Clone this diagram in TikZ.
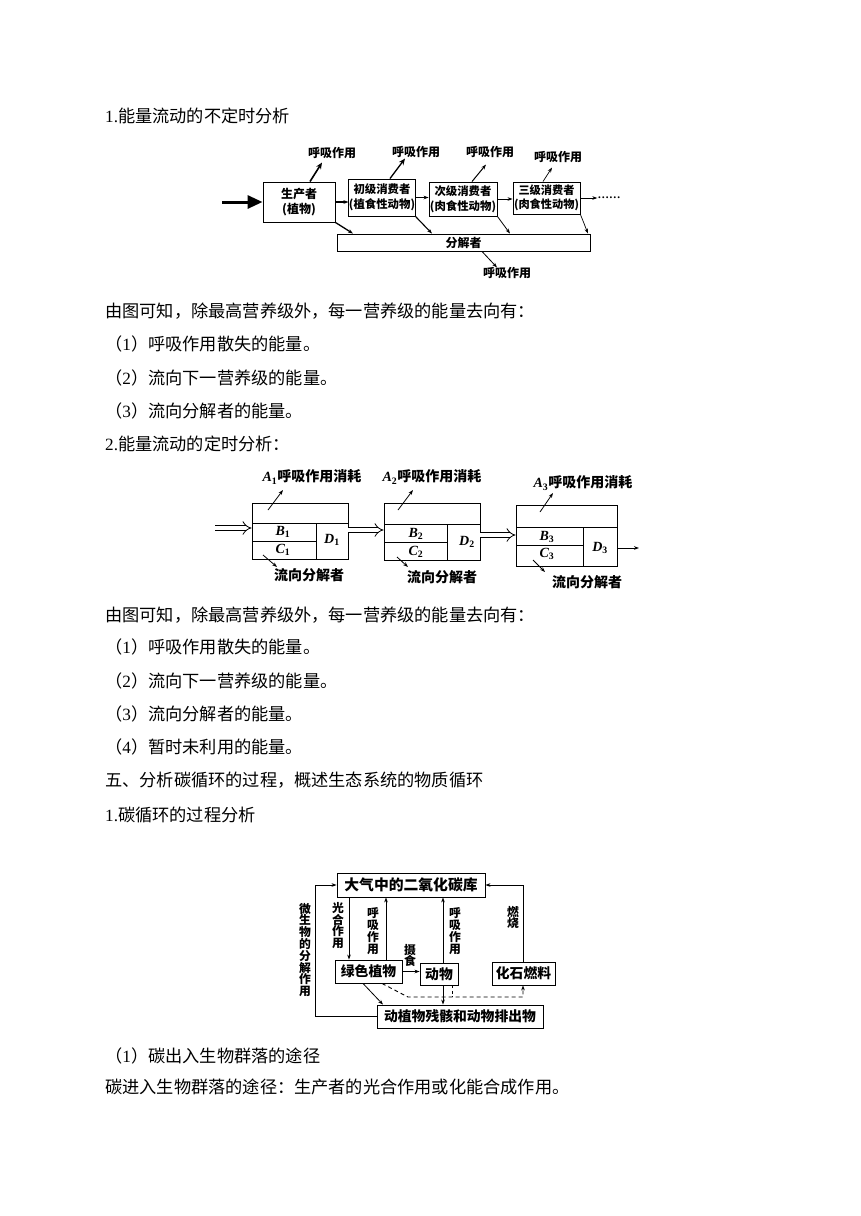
\documentclass[tikz,border=0pt]{standalone}
\usepackage{fontspec}
\setmainfont{Noto Sans CJK SC}
\newfontfamily\tnr{Liberation Serif}
\usetikzlibrary{arrows.meta}
\newcommand\bodyfont{\fontsize{17.2}{20}\selectfont}
\newcommand\dfa{\fontsize{12}{15}\selectfont\bfseries}
\newcommand\dfb{\fontsize{14}{16}\selectfont\bfseries}
\newcommand\dfc{\fontsize{13.8}{15}\selectfont\bfseries}
\newcommand\vfont{\fontsize{11.8}{11.8}\selectfont\bfseries}
\newcommand\lett[2]{{\tnr\bfseries\itshape #1\textsubscript{\upshape #2}}}
\tikzset{
  body/.style={anchor=west, inner sep=0pt, font=\bodyfont},
  fbox/.style={draw, line width=0.9pt, inner sep=0pt, align=center},
  lab/.style={inner sep=0pt, font=\dfa},
  labb/.style={inner sep=0pt, font=\dfb},
  vlab/.style={inner sep=0pt, font=\vfont, align=center},
  arr/.style={-{Stealth[length=5pt,width=3.6pt]}, line width=0.8pt},
  resp/.style={-{Stealth[length=6.5pt,width=5.5pt]}, line width=1.6pt},
  dbl/.style={double, double distance=4pt, line width=0.8pt, -{Implies}},
}
\begin{document}
\begin{tikzpicture}[x=1pt,y=-1pt]
\useasboundingbox (0,0) rectangle (860,1216);
\fill[white] (0,0) rectangle (860,1216);

% ---------- body text ----------
\node[body] (t1) at (105,115.5) {{\tnr 1.}能量流动的不定时分析};
\node[body] (t2) at (105,311.5) {由图可知，除最高营养级外，每一营养级的能量去向有：};
\node[body] (t3) at (105,344) {（{\tnr 1}）呼吸作用散失的能量。};
\node[body] (t4) at (105,377.5) {（{\tnr 2}）流向下一营养级的能量。};
\node[body] (t5) at (105,411) {（{\tnr 3}）流向分解者的能量。};
\node[body] (t6) at (105,444) {{\tnr 2.}能量流动的定时分析：};
\node[body] (t7) at (105,615) {由图可知，除最高营养级外，每一营养级的能量去向有：};
\node[body] (t8) at (105,647) {（{\tnr 1}）呼吸作用散失的能量。};
\node[body] (t9) at (105,681) {（{\tnr 2}）流向下一营养级的能量。};
\node[body] (t10) at (105,714) {（{\tnr 3}）流向分解者的能量。};
\node[body] (t11) at (105,747) {（{\tnr 4}）暂时未利用的能量。};
\node[body] (t12) at (105,780.5) {五、分析碳循环的过程，概述生态系统的物质循环};
\node[body] (t13) at (105,815) {{\tnr 1.}碳循环的过程分析};
\node[body] (t14) at (105,1055.5) {（{\tnr 1}）碳出入生物群落的途径};
\node[body] (t15) at (105,1086.5) {碳进入生物群落的途径：生产者的光合作用或化能合成作用。};

% ---------- diagram 1 ----------
\node[fbox, minimum width=72pt, minimum height=40pt, font=\dfa] (p) at (299,202) {生产者\\(植物)};
\node[fbox, minimum width=64pt, minimum height=37pt, font=\fontsize{11.4}{15}\selectfont\bfseries] (c1) at (382,197.5) {初级消费者\\(植食性动物)};
\node[fbox, minimum width=68pt, minimum height=34pt, font=\fontsize{11.4}{15}\selectfont\bfseries] (c2) at (463,199) {次级消费者\\(肉食性动物)};
\node[fbox, minimum width=67pt, minimum height=32pt, font=\fontsize{11.2}{14}\selectfont\bfseries] (c3) at (546.5,198) {三级消费者\\(肉食性动物)};
\node[fbox, minimum width=253pt, minimum height=17pt, font=\dfa] (d) at (463.5,242.5) {分解者};
\node[inner sep=0pt, font=\fontsize{11.5}{11}\selectfont\tnr\bfseries] (dots) at (609,198) {……};

\node[lab] (r1) at (332,153) {呼吸作用};
\node[lab] (r2) at (416,152) {呼吸作用};
\node[lab] (r3) at (490,152) {呼吸作用};
\node[lab] (r4) at (558,157) {呼吸作用};
\node[lab] (r5) at (507,273) {呼吸作用};

\coordinate (in1) at (222,202);
\draw[line width=3pt, -{Triangle[length=15pt,width=13pt]}] (in1) -- (p.west);
\draw[arr, line width=1.2pt] (p.east) -- (p.east -| c1.west);
\draw[arr, line width=1.2pt] (c1.east) -- (c1.east -| c2.west);
\draw[arr] (c2.east) -- (c2.east -| c3.west);
\draw[arr] (c3.east) -- (dots.west);

\draw[resp] ([xshift=11pt]p.north) -- ++(12,-19);
\draw[resp, line width=1.3pt] ([xshift=8pt]c1.north) -- ++(15,-20);
\draw[arr, line width=1pt] ([xshift=9pt]c2.north) -- ++(14,-17);
\draw[arr, line width=0.7pt] ([xshift=-3.5pt]c3.north) -- ++(9,-14);

\draw[arr, line width=1.3pt] (p.south east) -- ([xshift=-110.5pt]d.north);
\draw[arr, line width=1.1pt] (c1.south east) -- ([xshift=-31.5pt]d.north);
\draw[arr] (c2.south east) -- ([xshift=46.5pt]d.north);
\draw[arr, line width=0.7pt] (c3.south east) -- ([xshift=124.5pt]d.north);
\draw[arr] ([xshift=18.5pt]d.south) -- ++(15,16);

% ---------- diagram 2 ----------
\node[draw, line width=0.9pt, inner sep=0pt, minimum width=96pt, minimum height=56pt] (b1) at (300,531) {};
\node[draw, line width=0.9pt, inner sep=0pt, minimum width=96pt, minimum height=57pt] (b2) at (432,531.5) {};
\node[draw, line width=0.9pt, inner sep=0pt, minimum width=101pt, minimum height=61pt] (b3) at (566.5,535.5) {};
\draw[line width=0.9pt] (252,523) -- (348,523) (316,523) -- (316,559) (252,541) -- (316,541);
\draw[line width=0.9pt] (384,524) -- (480,524) (447,524) -- (447,560) (384,542) -- (447,542);
\draw[line width=0.9pt] (516,527) -- (617,527) (583,527) -- (583,566) (516,545) -- (583,545);

\node[labb] (B1) at (283,532) {\lett{B}{1}};
\node[labb] (C1) at (283,550) {\lett{C}{1}};
\node[labb] (D1) at (332,540) {\lett{D}{1}};
\node[labb] (B2) at (416,534) {\lett{B}{2}};
\node[labb] (C2) at (416,552) {\lett{C}{2}};
\node[labb] (D2) at (467,542) {\lett{D}{2}};
\node[labb] (B3) at (547,537) {\lett{B}{3}};
\node[labb] (C3) at (547,554) {\lett{C}{3}};
\node[labb] (D3) at (600,548) {\lett{D}{3}};

\node[labb] (a1) at (312,477) {\lett{A}{1}呼吸作用消耗};
\node[labb] (a2) at (432,477) {\lett{A}{2}呼吸作用消耗};
\node[labb] (a3) at (583,483) {\lett{A}{3}呼吸作用消耗};
\node[labb] (f1) at (309,575) {流向分解者};
\node[labb] (f2) at (442,577) {流向分解者};
\node[labb] (f3) at (587,582) {流向分解者};

\draw[arr] (268,510) -- (283,490);
\draw[arr] (398,510) -- (413,490);
\draw[arr] (540,512) -- (553,493);
\draw[arr] (263,555) -- (277,567);
\draw[arr] (397,557) -- (408,567);
\draw[arr] (533,560) -- (545,572);

\coordinate (in2) at (215,528);
\draw[dbl] (in2) -- (in2 -| b1.west);
\coordinate (e1) at ([yshift=1pt]b1.east);
\draw[dbl] (e1) -- (e1 -| b2.west);
\coordinate (e2) at ([yshift=-3.5pt]b2.east);
\draw[dbl] (e2) -- (e2 -| b3.west);
\coordinate (e3) at ([yshift=-12.5pt]b3.east);
\coordinate (o3) at (639,548);
\draw[arr] (e3) -- (o3);

% ---------- diagram 3 ----------
\node[fbox, minimum width=148pt, minimum height=24pt, font=\fontsize{14.8}{15}\selectfont\bfseries] (co2) at (411,885) {大气中的二氧化碳库};
\node[fbox, minimum width=67pt, minimum height=23pt, font=\dfc] (gp) at (368.5,971.5) {绿色植物};
\node[fbox, minimum width=38pt, minimum height=22pt, font=\dfc] (an) at (439,974) {动物};
\node[fbox, minimum width=63pt, minimum height=23pt, font=\dfc] (fu) at (523.5,973.5) {化石燃料};
\node[fbox, minimum width=166pt, minimum height=23pt, font=\dfc] (rs) at (460,1016.5) {动植物残骸和动物排出物};

\node[vlab] (v1) at (305,950) {微\\生\\物\\的\\分\\解\\作\\用};
\node[vlab] (v2) at (338,925.5) {光\\合\\作\\用};
\node[vlab] (v3) at (373,931) {呼\\吸\\作\\用};
\node[vlab] (v4) at (410,955.5) {摄\\食};
\node[vlab] (v5) at (455,931) {呼\\吸\\作\\用};
\node[vlab] (v6) at (513,917.5) {燃\\烧};

\coordinate (xl) at (315,0);
\coordinate (xps) at (349,0);
\coordinate (xr1) at (386,0);
\coordinate (xr2) at (443,0);
\coordinate (xda) at (452,0);
\coordinate (xfu) at (523,0);
\coordinate (ydash) at (0,997);

\draw[arr] (rs.west) -- (rs.west -| xl) -- (co2.west -| xl) -- (co2.west);
\draw[arr] (co2.south -| xps) -- (gp.north -| xps);
\draw[arr] (gp.north -| xr1) -- (co2.south -| xr1);
\draw[arr] (gp.east) -- (gp.east -| an.west);
\draw[arr] (an.north -| xr2) -- (co2.south -| xr2);
\draw[arr] (an.south -| xr2) -- (rs.north -| xr2);
\draw[arr] (fu.north -| xfu) -- (co2.east -| xfu) -- (co2.east);
\draw[arr] ([xshift=-5.5pt]gp.south) -- ([xshift=-77pt]rs.north);
\draw[arr, dashed, dash pattern=on 4pt off 3pt, line width=0.9pt] ([xshift=13.5pt]gp.south) -- (408,997) -- (ydash -| xfu) -- (fu.south -| xfu);
\draw[line width=0.9pt, dashed, dash pattern=on 3pt off 2.5pt] (an.south -| xda) -- (ydash -| xda);
\end{tikzpicture}
\end{document}
